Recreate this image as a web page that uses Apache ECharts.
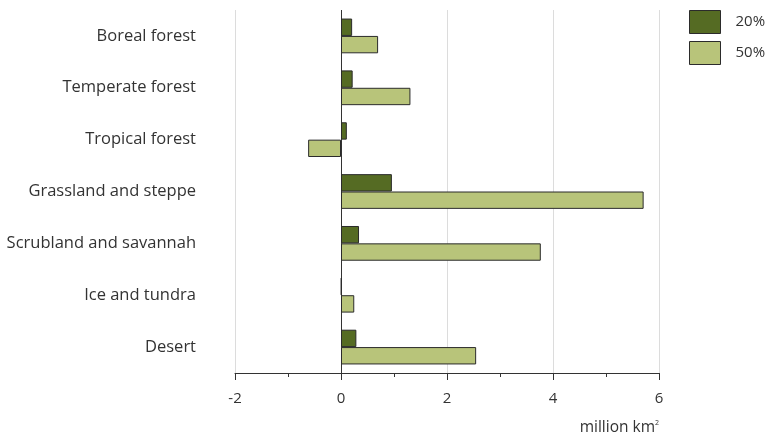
<!DOCTYPE html>
<html><head><meta charset="utf-8">
<script src="https://cdn.jsdelivr.net/npm/echarts@6/dist/echarts.min.js"></script>
<style>html,body{margin:0;padding:0;background:#fff}#c{width:765px;height:439px}</style>
</head><body><div id="c"></div>
<script>
const categories = ['Boreal forest','Temperate forest','Tropical forest','Grassland and steppe','Scrubland and savannah','Ice and tundra','Desert'];
const values20 = [0.21, 0.22, 0.11, 0.96, 0.34, 0.01, 0.29];
const values50 = [0.70, 1.31, -0.62, 5.71, 3.77, 0.25, 2.55];
const seriesNames = ['20%', '50%'];
const xTicks = [-2, 0, 2, 4, 6];

const FONT = 'Open Sans';
const chart = echarts.init(document.getElementById('c'), null, {renderer:'canvas'});
chart.setOption({
  animation: false,
  textStyle: {fontFamily: FONT},
  grid: {left: 235, right: 106, top: 10, bottom: 66, containLabel: false},
  legend: {
    orient: 'vertical', left: 689, top: 10, padding: 0, itemWidth: 31, itemHeight: 23, itemGap: 7,
    icon: 'rect',
    itemStyle: {borderWidth: 1, borderColor: '#2b2b2b'},
    textStyle: {fontFamily: FONT, fontSize: 15, color: '#333', padding: [0,0,0,10]},
    data: seriesNames
  },
  xAxis: {
    type: 'value', min: xTicks[0], max: xTicks[xTicks.length-1], interval: 2,
    axisLine: {show: true, lineStyle: {color: '#333', width: 1}},
    axisTick: {show: true, length: 7, lineStyle: {color: '#333'}},
    minorTick: {show: true, splitNumber: 2, length: 4, lineStyle: {color: '#333'}},
    splitLine: {show: true, lineStyle: {color: '#dcdcdc', width: 1}},
    axisLabel: {fontFamily: FONT, fontSize: 15, color: '#333', margin: 18}
  },
  yAxis: {
    type: 'category', data: categories, inverse: true,
    axisLine: {show: false}, axisTick: {show: false},
    axisLabel: {fontFamily: FONT, fontSize: 16.5, color: '#333', margin: 39}
  },
  graphic: [{
    type: 'text', right: 106, top: 419,
    style: {
      text: '{a|million km}{b|2}',
      rich: {a: {fontFamily: FONT, fontSize: 15.5, fill: '#333'}, b: {fontFamily: FONT, fontSize: 7, fill: '#333', verticalAlign: 'top', padding:[0,0,10,0]}},
      textAlign: 'right'
    }
  }],
  series: [
    {name: seriesNames[0], type: 'bar', data: values20, barGap: '0%', barCategoryGap: '33%',
     itemStyle: {color: '#556b23', borderColor: '#2b2b2b', borderWidth: 1},
     markLine: {silent: true, symbol: 'none', label: {show: false},
       lineStyle: {color: '#333', width: 1, type: 'solid'}, data: [{xAxis: 0}], z: 1}},
    {name: seriesNames[1], type: 'bar', data: values50, barGap: '0%', barCategoryGap: '33%',
     itemStyle: {color: '#b8c47a', borderColor: '#2b2b2b', borderWidth: 1}}
  ]
});
</script></body></html>
